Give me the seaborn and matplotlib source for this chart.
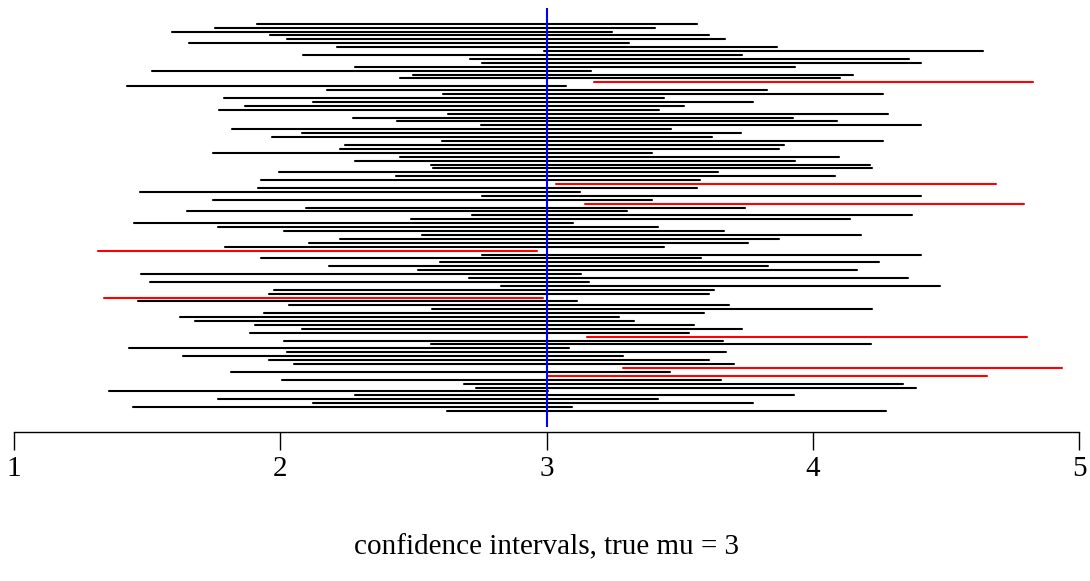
import matplotlib
matplotlib.use("Agg")
import matplotlib.pyplot as plt
import seaborn as sns
import pandas as pd

# true mean and the 100 interval ends, listed top row first
true_mu = 3
lower = [1.913, 1.756, 1.594, 1.960, 2.024, 1.658, 2.215, 2.989, 2.085, 2.713,
         2.756, 2.281, 1.517, 2.500, 2.450, 3.177, 1.423, 2.175, 2.611, 1.788,
         2.124, 1.866, 1.771, 2.630, 2.274, 2.440, 2.753, 1.818, 2.080, 1.970,
         2.609, 2.242, 2.225, 1.747, 2.450, 2.281, 2.565, 2.573, 1.996, 2.434,
         1.926, 3.036, 1.917, 1.474, 2.758, 1.746, 3.143, 2.097, 1.651, 2.720,
         2.490, 1.450, 1.766, 2.015, 2.532, 2.223, 2.107, 1.792, 1.315, 2.758,
         1.928, 2.600, 2.182, 2.517, 1.477, 2.708, 1.511, 2.828, 1.977, 1.958,
         1.338, 1.467, 2.033, 2.569, 1.940, 1.623, 1.679, 1.904, 2.082, 1.885,
         3.151, 2.014, 2.566, 1.432, 2.024, 1.636, 1.958, 2.051, 3.286, 1.816,
         3.006, 2.006, 2.689, 2.737, 1.355, 2.280, 1.766, 2.122, 1.447, 2.625]
upper = [3.565, 3.407, 3.245, 3.611, 3.672, 3.309, 3.867, 4.639, 3.736, 4.363,
         4.406, 3.933, 3.167, 4.152, 4.101, 4.829, 3.075, 3.827, 4.262, 3.440,
         3.775, 3.516, 3.421, 4.282, 3.924, 4.090, 4.405, 3.468, 3.730, 3.620,
         4.262, 3.893, 3.875, 3.396, 4.100, 3.933, 4.216, 4.224, 3.646, 4.084,
         3.576, 4.687, 3.567, 3.125, 4.408, 3.396, 4.794, 3.747, 3.303, 4.371,
         4.140, 3.101, 3.417, 3.668, 4.182, 3.873, 3.758, 3.443, 2.966, 4.406,
         3.580, 4.250, 3.833, 4.167, 3.128, 4.357, 3.159, 4.478, 3.628, 3.610,
         2.988, 3.116, 3.686, 4.221, 3.591, 3.274, 3.329, 3.554, 3.733, 3.536,
         4.803, 3.663, 4.218, 3.083, 3.675, 3.286, 3.610, 3.703, 4.937, 3.465,
         4.655, 3.657, 4.339, 4.388, 3.006, 3.930, 3.417, 3.774, 3.096, 4.274]
tick_values = [1, 2, 3, 4, 5]

n = len(lower)
rows = []
for k in range(n):
    covers = lower[k] <= true_mu <= upper[k]
    for v in (lower[k], upper[k]):
        rows.append({"id": k, "x": v, "y": n - k, "covers": covers})
df = pd.DataFrame(rows)

sns.set_theme(style="white")
plt.rcParams["font.family"] = ["Liberation Serif", "DejaVu Serif"]
plt.rcParams["text.color"] = "black"
plt.rcParams["xtick.color"] = "black"
plt.rcParams["axes.labelcolor"] = "black"

fig = plt.figure(figsize=(10.9, 5.81), dpi=100)
ax = fig.add_axes([14 / 1090, 154.5 / 581, 1065 / 1090, 418.3 / 581])

sns.lineplot(data=df, x="x", y="y", units="id", estimator=None, hue="covers",
             palette={True: "black", False: "red"}, linewidth=1.5,
             legend=False, sort=False, ax=ax)
ax.axvline(true_mu, color="blue", linewidth=1.5)

ax.set_xlim(1, 5)
ax.set_ylim(1 - 0.04 * (n - 1), n + 0.04 * (n - 1))

sns.despine(ax=ax, left=True)
ax.spines["bottom"].set_position(("outward", 4))
ax.spines["bottom"].set_bounds(1, 5)
ax.spines["bottom"].set_color("black")
ax.spines["bottom"].set_linewidth(1.0)
ax.set_yticks([])
ax.set_xticks(tick_values)
ax.set_xticklabels([str(t) for t in tick_values])
ax.tick_params(axis="x", direction="out", length=13, width=1.0, color="black",
               pad=4, labelsize=21, labelcolor="black", bottom=True)
ax.set_ylabel("")
ax.set_xlabel("confidence intervals, true mu = 3", fontsize=21, labelpad=38,
              color="black")

fig.savefig("out.png", dpi=100)
